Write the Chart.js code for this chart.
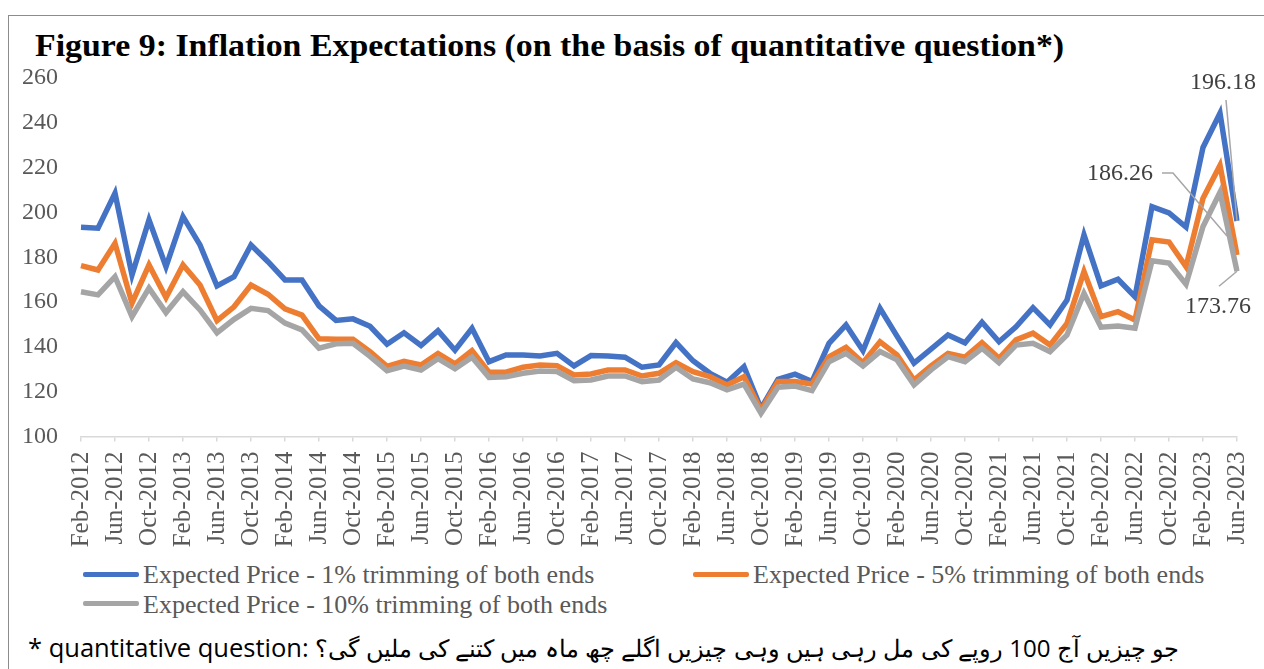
<!DOCTYPE html>
<html>
<head>
<meta charset="utf-8">
<title>Figure 9</title>
<script src="https://cdn.jsdelivr.net/npm/chart.js@4.4.0/dist/chart.umd.min.js"></script>
<style>
    body { margin: 0; width: 1264px; height: 669px; overflow: hidden; position: relative; background: #fff; }
    #cornice { position: absolute; left: 8px; top: 15px; width: 1400px; height: 800px; border: 1.5px solid #8c8c8c; box-sizing: border-box; }
    #titolo { position: absolute; left: 35px; top: 29.5px; font: bold 31px "Liberation Serif", serif; line-height: 1; color: #000; white-space: nowrap; transform: scaleX(1.092); transform-origin: left top; }
    #contenitore { position: absolute; left: 0; top: 0; width: 1264px; height: 560px; }
    .voce { position: absolute; font: 26px "Liberation Serif", serif; line-height: 1; color: #595959; white-space: nowrap; }
    .campione { position: absolute; width: 56px; height: 5px; border-radius: 2px; }
    #nota { position: absolute; left: 28px; top: 634.5px; font: 25.5px "Open Sans", sans-serif; line-height: 1; color: #000; white-space: nowrap; }
</style>
</head>
<body>
<div id="cornice"></div>
<div id="titolo">Figure 9: Inflation Expectations (on the basis of quantitative question*)</div>
<div id="contenitore"><canvas id="grafico" width="1264" height="560"></canvas></div>
<div id="legenda"></div>
<div id="nota">* quantitative question: <span dir="rtl" style="unicode-bidi: isolate; font-size: 24.1px;">جو چیزیں آج 100 روپے کی مل رہی ہیں وہی چیزیں اگلے چھ ماہ میں کتنے کی ملیں گی؟</span></div>

<script>
// categorie (bimestrali)
const mesi = [
    'Feb-2012', 'Apr-2012', 'Jun-2012', 'Aug-2012', 'Oct-2012', 'Dec-2012',
    'Feb-2013', 'Apr-2013', 'Jun-2013', 'Aug-2013', 'Oct-2013', 'Dec-2013',
    'Feb-2014', 'Apr-2014', 'Jun-2014', 'Aug-2014', 'Oct-2014', 'Dec-2014',
    'Feb-2015', 'Apr-2015', 'Jun-2015', 'Aug-2015', 'Oct-2015', 'Dec-2015',
    'Feb-2016', 'Apr-2016', 'Jun-2016', 'Aug-2016', 'Oct-2016', 'Dec-2016',
    'Feb-2017', 'Apr-2017', 'Jun-2017', 'Aug-2017', 'Oct-2017', 'Dec-2017',
    'Feb-2018', 'Apr-2018', 'Jun-2018', 'Aug-2018', 'Oct-2018', 'Dec-2018',
    'Feb-2019', 'Apr-2019', 'Jun-2019', 'Aug-2019', 'Oct-2019', 'Dec-2019',
    'Feb-2020', 'Apr-2020', 'Jun-2020', 'Aug-2020', 'Oct-2020', 'Dec-2020',
    'Feb-2021', 'Apr-2021', 'Jun-2021', 'Aug-2021', 'Oct-2021', 'Dec-2021',
    'Feb-2022', 'Apr-2022', 'Jun-2022', 'Aug-2022', 'Oct-2022', 'Dec-2022',
    'Feb-2023', 'Apr-2023', 'Jun-2023'
];

const nomiSerie = [
    'Expected Price - 1% trimming of both ends',
    'Expected Price - 5% trimming of both ends',
    'Expected Price - 10% trimming of both ends'
];

const prezzoAtteso1 = [
    193.4, 193.0, 208.6, 172.1, 196.7, 175.8, 198.1, 185.5, 167.2, 171.3, 185.5, 178.0,
    169.9, 169.9, 158.3, 151.8, 152.5, 149.2, 141.2, 146.3, 140.6, 147.2, 138.5, 148.3,
    133.4, 136.4, 136.4, 135.9, 137.1, 131.5, 136.1, 135.9, 135.4, 130.9, 131.9, 141.9,
    133.8, 128.2, 124.2, 131.2, 112.5, 125.5, 127.8, 124.5, 141.6, 149.8, 138.3, 157.2,
    144.8, 132.7, 139.0, 145.3, 141.8, 151.0, 142.3, 149.0, 157.5, 149.8, 160.9, 190.0,
    167.2, 170.2, 162.4, 202.6, 199.8, 193.5, 229.0, 244.3, 196.18
];

const prezzoAtteso5 = [
    176.3, 174.3, 186.2, 159.5, 176.6, 162.0, 176.6, 167.6, 151.7, 157.9, 167.6, 163.5,
    157.0, 154.2, 143.6, 143.4, 143.4, 137.9, 131.3, 133.5, 131.9, 137.0, 132.4, 138.3,
    128.7, 128.7, 130.9, 131.9, 131.6, 127.5, 127.9, 129.7, 129.7, 127.0, 128.2, 132.9,
    128.9, 126.7, 123.0, 126.7, 111.8, 124.5, 124.5, 123.4, 135.6, 139.8, 132.9, 142.3,
    136.4, 125.2, 131.5, 137.1, 135.4, 141.9, 134.9, 143.1, 146.1, 140.8, 150.5, 173.6,
    153.5, 155.7, 152.0, 187.8, 186.8, 175.8, 206.3, 221.0, 181.0
];

const prezzoAtteso10 = [
    164.6, 163.2, 171.3, 153.5, 166.2, 155.3, 164.6, 156.5, 146.3, 152.3, 157.2, 156.2,
    150.6, 147.6, 139.4, 141.4, 141.6, 135.8, 129.4, 131.4, 129.7, 134.7, 130.2, 135.4,
    126.4, 126.7, 128.2, 129.2, 129.0, 124.9, 125.2, 127.0, 127.0, 124.5, 125.2, 130.9,
    125.7, 124.0, 120.8, 123.4, 110.4, 122.0, 122.5, 120.5, 133.4, 137.1, 131.5, 137.9,
    134.2, 123.0, 129.7, 135.6, 133.4, 139.4, 132.9, 140.8, 141.6, 137.9, 145.3, 163.9,
    148.8, 149.3, 148.3, 178.4, 177.4, 168.0, 193.7, 209.0, 173.76
];

// etichette mostrate sull'ultimo punto di ogni serie
const etichetteFinali = ['196.18', '186.26', '173.76'];

const colori = ['#4472C4', '#ED7D31', '#A5A5A5'];
const grigioTesto = '#595959';

// etichette finali con linee guida
const etichettePlugin = {
    id: 'etichetteFinali',
    afterDatasetsDraw(chart) {
        const c = chart.ctx;
        c.save();
        c.font = '24px "Liberation Serif", serif';
        c.fillStyle = '#404040';
        c.strokeStyle = '#A6A6A6';
        c.lineWidth = 1.5;
        c.textAlign = 'center';
        c.textBaseline = 'middle';

        const p = i => {
            const meta = chart.getDatasetMeta(i);
            const pt = meta.data[meta.data.length - 1];
            return { x: pt.x, y: pt.y };
        };

        // 1%
        let a = p(0);
        c.beginPath();
        c.moveTo(a.x - 11, a.y - 121);
        c.lineTo(a.x, a.y);
        c.stroke();
        c.fillText(etichetteFinali[0], a.x - 14, a.y - 138);

        // 5%
        a = p(1);
        c.beginPath();
        c.moveTo(a.x - 75, a.y - 82);
        c.lineTo(a.x - 64, a.y - 82);
        c.lineTo(a.x - 10, a.y - 19);
        c.stroke();
        c.fillText(etichetteFinali[1], a.x - 117, a.y - 81);

        // 10%
        a = p(2);
        c.beginPath();
        c.moveTo(a.x - 18, a.y + 15);
        c.lineTo(a.x, a.y);
        c.stroke();
        c.fillText(etichetteFinali[2], a.x - 19, a.y + 35);
        c.restore();
    }
};

const serie = [prezzoAtteso1, prezzoAtteso5, prezzoAtteso10];

new Chart(document.getElementById('grafico'), {
    type: 'line',
    data: {
        labels: mesi,
        datasets: serie.map((valori, i) => ({
            label: nomiSerie[i],
            data: valori,
            borderColor: colori[i],
            backgroundColor: colori[i],
            borderWidth: 5.5,
            pointRadius: 0,
            tension: 0,
            order: 3 - i
        }))
    },
    options: {
        responsive: false,
        animation: false,
        layout: { padding: { top: 78, left: 0, right: 27, bottom: 0 } },
        plugins: {
            legend: { display: false },
            tooltip: { enabled: false }
        },
        scales: {
            x: {
                offset: false,
                border: { color: '#D9D9D9', width: 1.5 },
                grid: {
                    display: true,
                    drawOnChartArea: false,
                    drawTicks: true,
                    tickLength: 5,
                    lineWidth: 1.5,
                    tickColor: ctx => ctx.index % 2 ? 'rgba(0,0,0,0)' : '#D9D9D9'
                },
                ticks: {
                    autoSkip: false,
                    minRotation: 90,
                    maxRotation: 90,
                    padding: 10,
                    color: grigioTesto,
                    font: { family: 'Liberation Serif', size: 25 },
                    callback: (v, i) => i % 2 ? '' : mesi[i]
                },
                afterFit: s => {
                    s.height = 123.5;
                    s.paddingLeft = 0;
                    s.paddingRight = 0;
                }
            },
            y: {
                min: 100,
                max: 260,
                border: { display: false },
                grid: { display: false, drawTicks: false },
                ticks: {
                    stepSize: 20,
                    padding: 23,
                    color: grigioTesto,
                    font: { family: 'Liberation Serif', size: 24 }
                },
                afterFit: s => { s.width = 81; }
            }
        }
    },
    plugins: [etichettePlugin]
});

// legenda in due colonne come nell'originale
const posizioniLegenda = [
    { x: 83, y: 574 },
    { x: 693, y: 574 },
    { x: 83, y: 603.5 }
];
const legenda = document.getElementById('legenda');
nomiSerie.forEach((nome, i) => {
    const pos = posizioniLegenda[i];
    const campione = document.createElement('div');
    campione.className = 'campione';
    campione.style.left = pos.x + 'px';
    campione.style.top = (pos.y - 2.5) + 'px';
    campione.style.background = colori[i];
    legenda.appendChild(campione);

    const voce = document.createElement('div');
    voce.className = 'voce';
    voce.style.left = (pos.x + 60) + 'px';
    voce.style.top = (pos.y + 10 - 21.8) + 'px';
    voce.textContent = nome;
    legenda.appendChild(voce);
});
</script>
</body>
</html>
